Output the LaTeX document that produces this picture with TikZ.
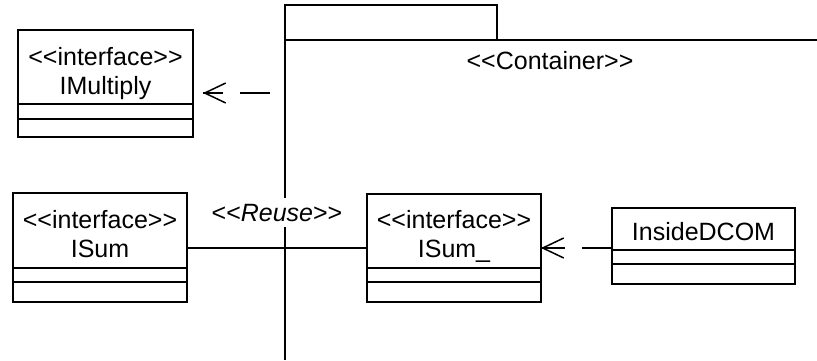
\documentclass[tikz,border=0pt]{standalone}
\usepackage{fontspec}
\setmainfont{Liberation Sans}
\usepackage{tikz}
\usetikzlibrary{arrows.meta}

\begin{document}
\begin{tikzpicture}[x=1pt, y=1pt, line width=1.5pt,
  classhead/.style={draw, rectangle, inner sep=0pt, outer sep=0pt, align=center, text depth=0pt, font=\fontsize{25}{29}\selectfont},
  dep/.style={-{Straight Barb[length=21pt, width=20pt, line width=1.5pt]}}]
 \useasboundingbox (0,0) rectangle (817,360);

 % container package
 \draw (285,0) -- (285,355) -- (497,355) -- (497,320);
 \draw (285,320) -- (817,320);
 \node[font=\fontsize{25}{29}\selectfont, anchor=base] (cont) at (550,291) {<{}<Container>{}>};

 % classes
 \node[classhead, text height=54pt, minimum width=175pt, minimum height=74pt] (imul) at (105.5,293) {<{}<interface>{}>\\IMultiply};
 \node[classhead, text height=53pt, minimum width=174pt, minimum height=75pt] (isum) at (100,129.5) {<{}<interface>{}>\\ISum};
 \node[classhead, text height=53pt, minimum width=174pt, minimum height=74pt] (isumb) at (454,129) {<{}<interface>{}>\\ISum\_};
 \node[classhead, text height=22pt, minimum width=183pt, minimum height=42pt] (dcom) at (703.5,131) {InsideDCOM};
 \foreach \n/\a/\b in {imul/15/33, isum/14/34, isumb/14/34, dcom/14/34}
  {
   \draw (\n.south west) rectangle ([yshift=-\b pt]\n.south east);
   \draw ([yshift=-\a pt]\n.south west) -- ([yshift=-\a pt]\n.south east);
  }

 % connectors
 \coordinate (cfree) at (270,267);
 \coordinate (mtip) at ([xshift=10pt]cfree -| imul.east);
 \draw[dash pattern=on 30pt off 17pt on 60pt] (cfree) -- (mtip);
 \draw[dep] ([xshift=2pt]mtip) -- (mtip);
 \draw ([yshift=20pt]isum.south east) -- node[above=20pt, fill=white, inner ysep=6pt, font=\fontsize{25}{29}\selectfont] (reuse) {<{}<\textit{Reuse}>{}>} ([yshift=20pt]isum.south east -| isumb.west);
 \coordinate (dfree) at ([yshift=2pt]dcom.south west);
 \coordinate (stip) at (dfree -| isumb.east);
 \draw[dash pattern=on 30pt off 17pt on 60pt] (dfree) -- (stip);
 \draw[dep] ([xshift=2pt]stip) -- (stip);
\end{tikzpicture}
\end{document}
